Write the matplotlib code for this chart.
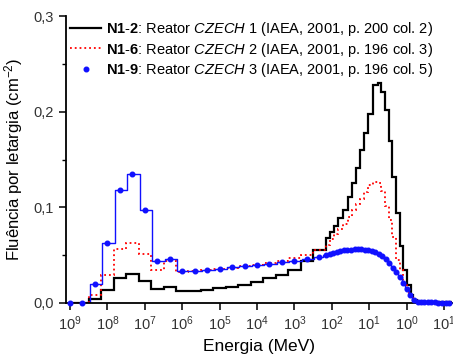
import numpy as np
import matplotlib.pyplot as plt
from matplotlib.lines import Line2D

plt.rcParams['font.family'] = ['Liberation Sans', 'DejaVu Sans']
plt.rcParams['mathtext.fontset'] = 'custom'
plt.rcParams['mathtext.rm'] = 'Liberation Sans'
plt.rcParams['mathtext.it'] = 'Liberation Sans:italic'
plt.rcParams['mathtext.bf'] = 'Liberation Sans:bold'

# limites dos grupos de energia (MeV) - espectros N1-2 e N1-6
bordas = [1.00e-9, 3.16e-9, 6.81e-9, 1.47e-8, 3.16e-8, 6.81e-8, 1.47e-7, 3.16e-7,
          6.81e-7, 1.47e-6, 3.16e-6, 6.81e-6, 1.47e-5, 3.16e-5, 6.81e-5, 1.47e-4,
          3.16e-4, 6.81e-4, 1.47e-3, 3.16e-3, 6.81e-3, 8.95e-3, 1.17e-2, 1.49e-2,
          2.03e-2, 2.76e-2, 3.47e-2, 4.44e-2, 5.68e-2, 7.48e-2, 9.57e-2, 1.29e-1,
          1.69e-1, 2.11e-1, 2.64e-1, 3.44e-1, 4.20e-1, 5.21e-1, 6.67e-1, 8.17e-1,
          1.01, 1.29, 1.51, 1.90, 20.0]

n12 = [0, 0.004, 0.0136, 0.026, 0.030, 0.023, 0.0143, 0.0172, 0.0122, 0.0128,
       0.0138, 0.0155, 0.0168, 0.019, 0.0222, 0.0258, 0.029, 0.035, 0.044, 0.055,
       0.0676, 0.0745, 0.080, 0.0885, 0.097, 0.111, 0.125, 0.141, 0.160, 0.178,
       0.198, 0.228, 0.230, 0.221, 0.202, 0.169, 0.132, 0.094, 0.060, 0.0345,
       0.019, 0.0084, 0.003, 0.0008]

n16 = [0, 0.0084, 0.029, 0.056, 0.063, 0.051, 0.035, 0.044, 0.0327, 0.0335,
       0.0345, 0.0355, 0.037, 0.0385, 0.040, 0.042, 0.044, 0.047, 0.050, 0.055,
       0.061, 0.067, 0.072, 0.077, 0.083, 0.090, 0.097, 0.103, 0.109, 0.116,
       0.123, 0.127, 0.125, 0.117, 0.101, 0.087, 0.069, 0.045, 0.034, 0.020,
       0.010, 0.005, 0.0025, 0.0008]

# espectro N1-9 (pontos)
e19 = [1.00e-9, 2.15e-9, 4.64e-9, 1.00e-8, 2.15e-8, 4.64e-8, 1.00e-7, 2.15e-7,
       4.64e-7, 1.00e-6, 2.15e-6, 4.64e-6, 1.00e-5, 2.15e-5, 4.64e-5, 1.00e-4,
       2.15e-4, 4.64e-4, 1.00e-3, 2.15e-3, 4.64e-3, 7.22e-3, 8.95e-3, 1.11e-2,
       1.38e-2, 1.71e-2, 2.12e-2, 2.63e-2, 3.26e-2, 4.05e-2, 5.02e-2, 6.22e-2,
       7.72e-2, 9.57e-2, 1.19e-1, 1.47e-1, 1.83e-1, 2.27e-1, 2.81e-1, 3.49e-1,
       4.33e-1, 5.37e-1, 6.67e-1, 8.26e-1, 1.03, 1.27, 1.58, 1.96, 2.43, 3.01,
       3.73, 4.63, 5.74, 7.13, 8.84, 11.0, 13.6]
n19 = [0, 0, 0.0195, 0.063, 0.118, 0.135, 0.097, 0.044, 0.0457, 0.033, 0.0334,
       0.0345, 0.0359, 0.0373, 0.0387, 0.0397, 0.041, 0.0425, 0.0442, 0.0457,
       0.0484, 0.0505, 0.0515, 0.0525, 0.0535, 0.0543, 0.0550, 0.0555, 0.0558,
       0.0561, 0.0562, 0.0561, 0.0558, 0.0552, 0.0543, 0.053, 0.0515, 0.049,
       0.0455, 0.0415, 0.037, 0.032, 0.027, 0.021, 0.015, 0.0085, 0.0035,
       0.0015, 0.001, 0.0008, 0.0007, 0.0006, 0.0006, 0.0005, 0.0005, 0.0004,
       0.0004]

xticks = [1e-9, 1e-8, 1e-7, 1e-6, 1e-5, 1e-4, 1e-3, 1e-2, 1e-1, 1e0, 1e1]
xexp = [9, 8, 7, 6, 5, 4, 3, 2, 1, 0, 1]
yticks = [0.0, 0.1, 0.2, 0.3]
ylabels = ['0,0', '0,1', '0,2', '0,3']

rotulos = [r'$\mathbf{N1}$-$\mathbf{2}$: Reator $\mathit{CZECH}$ 1 (IAEA, 2001, p. 200 col. 2)',
           r'$\mathbf{N1}$-$\mathbf{6}$: Reator $\mathit{CZECH}$ 2 (IAEA, 2001, p. 196 col. 3)',
           r'$\mathbf{N1}$-$\mathbf{9}$: Reator $\mathit{CZECH}$ 3 (IAEA, 2001, p. 196 col. 5)']

fig = plt.figure(figsize=(4.53, 3.63), dpi=100)
ax = fig.add_axes([66/453, 60/363, 386/453, 287/363])

ax.stairs(n12, bordas, color='black', lw=1.6)
ax.stairs(n16, bordas, color='red', ls=':', lw=1.3)
ax.plot(e19, n19, color='#1010ff', lw=1.0, drawstyle='steps-mid')
ax.plot(e19, n19, 'o', color='#1010ff', ms=3.3, clip_on=False, zorder=5)

ax.set_xscale('log')
ax.set_xlim(7.8e-10, 16.4)
ax.set_ylim(0, 0.3)
ax.set_xticks(xticks, [r'$\mathregular{10^{%d}}$' % e for e in xexp])
ax.set_yticks(yticks, ylabels)
ax.set_yticks([0.05, 0.15, 0.25], minor=True)

for s in ['top', 'right']:
    ax.spines[s].set_visible(False)
for s in ['left', 'bottom']:
    ax.spines[s].set_linewidth(1.3)
ax.tick_params(which='major', length=5, width=1.1, labelsize=10.5, colors='black')
ax.tick_params(which='minor', length=3, width=1.0)
ax.tick_params(axis='both', labelcolor='#333333')

ax.set_xlabel('Energia (MeV)', fontsize=12.5, labelpad=4)
ax.set_ylabel(r'Fluência por letargia (cm$^{\mathregular{-2}}$)', fontsize=12, labelpad=6)

alcas = [Line2D([], [], color='black', lw=1.6),
         Line2D([], [], color='red', ls=':', lw=1.3),
         Line2D([], [], color='#1010ff', marker='o', ls='none', ms=3.3)]
ax.legend(alcas, rotulos, loc='upper left', bbox_to_anchor=(0.0, 1.0),
          frameon=False, fontsize=10.5, handlelength=2.1, handletextpad=0.35,
          labelspacing=0.15, borderpad=0.1, borderaxespad=0.2)

fig.savefig('out.png', dpi=100)
